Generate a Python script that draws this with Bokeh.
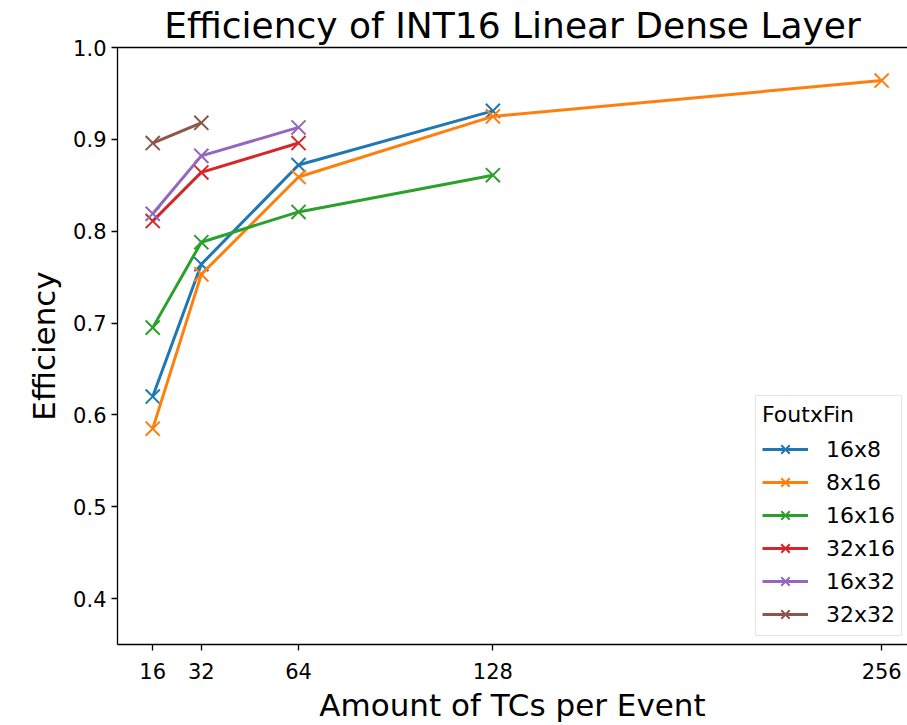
from bokeh.plotting import figure
from bokeh.models import Range1d, FixedTicker, LinearAxis, Legend, LegendItem, NumeralTickFormatter
from bokeh.embed import file_html
from bokeh.resources import INLINE

tcs_16x8 = [16, 32, 64, 128]
eff_16x8 = [0.620, 0.764, 0.872, 0.931]
tcs_8x16 = [16, 32, 64, 128, 256]
eff_8x16 = [0.585, 0.753, 0.859, 0.925, 0.964]
tcs_16x16 = [16, 32, 64, 128]
eff_16x16 = [0.695, 0.788, 0.821, 0.861]
tcs_32x16 = [16, 32, 64]
eff_32x16 = [0.811, 0.864, 0.896]
tcs_16x32 = [16, 32, 64]
eff_16x32 = [0.819, 0.882, 0.913]
tcs_32x32 = [16, 32]
eff_32x32 = [0.896, 0.918]

series = [
    ("16x8", tcs_16x8, eff_16x8, "#1f77b4"),
    ("8x16", tcs_8x16, eff_8x16, "#ff7f0e"),
    ("16x16", tcs_16x16, eff_16x16, "#2ca02c"),
    ("32x16", tcs_32x16, eff_32x16, "#d62728"),
    ("16x32", tcs_16x32, eff_16x32, "#9467bd"),
    ("32x32", tcs_32x32, eff_32x32, "#8c564b"),
]
x_ticks = [16, 32, 64, 128, 256]
y_ticks = [0.4, 0.5, 0.6, 0.7, 0.8, 0.9, 1.0]

FONT = "DejaVu Sans"

p = figure(width=907, height=725, output_backend="svg", toolbar_location=None,
           x_range=Range1d(4.4, 264.5), y_range=Range1d(0.35, 1.0),
           min_border_left=117, min_border_right=0, min_border_top=47,
           min_border_bottom=80)
p.title.text = "Efficiency of INT16 Linear Dense Layer"
p.title.text_font = FONT
p.title.text_font_size = "36px"
p.title.text_font_style = "normal"
p.title.text_color = "black"
p.title.align = "center"
p.title.standoff = 4
p.grid.visible = False
p.outline_line_color = None

items = []
for name, xs, ys, col in series:
    r1 = p.line(xs, ys, line_color=col, line_width=3)
    r2 = p.scatter(xs, ys, marker="x", size=20, line_color=col, line_width=2)
    items.append(LegendItem(label=name, renderers=[r1, r2]))

for ax in [p.xaxis[0], p.yaxis[0]]:
    ax.axis_line_width = 1.3
    ax.major_tick_line_width = 1.3
    ax.major_tick_out = 6
    ax.major_tick_in = 0
    ax.minor_tick_line_color = None
    ax.major_label_text_font = FONT
    ax.major_label_text_font_size = "21px"
    ax.major_label_text_color = "black"
    ax.axis_label_text_font = FONT
    ax.axis_label_text_font_size = "31px"
    ax.axis_label_text_font_style = "normal"
    ax.axis_label_text_color = "black"

p.xaxis[0].ticker = FixedTicker(ticks=x_ticks)
p.yaxis[0].ticker = FixedTicker(ticks=y_ticks)
p.yaxis[0].formatter = NumeralTickFormatter(format="0.0")
p.xaxis[0].axis_label = "Amount of TCs per Event"
p.yaxis[0].axis_label = "Efficiency"
p.xaxis[0].major_label_standoff = 12
p.yaxis[0].major_label_standoff = 5
p.xaxis[0].axis_label_standoff = 5
p.yaxis[0].axis_label_standoff = 8

top = LinearAxis(ticker=FixedTicker(ticks=[]), major_tick_line_color=None,
                 minor_tick_line_color=None, major_label_text_font_size="0px",
                 axis_line_width=1.3)
p.add_layout(top, "above")

legend = Legend(items=items, location=(638, 8), title="FoutxFin",
                title_text_font=FONT, title_text_font_size="22px",
                title_text_font_style="normal", title_text_color="black",
                label_text_font=FONT, label_text_font_size="22px",
                label_text_color="black",
                glyph_width=46, glyph_height=30, spacing=3, padding=6,
                label_standoff=18, border_line_color="#cccccc",
                border_line_width=1, background_fill_alpha=0.8,
                title_standoff=7)
p.add_layout(legend, "center")

open("out.html", "w").write(file_html(p, INLINE))
